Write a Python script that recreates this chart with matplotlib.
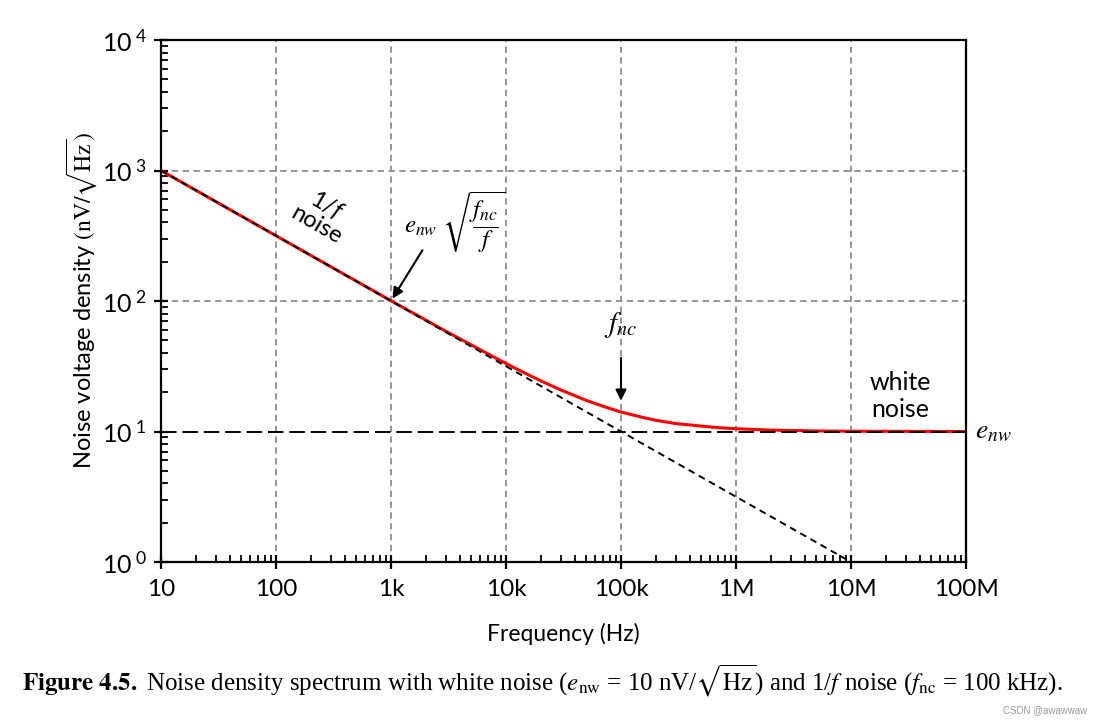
"""
Noise density spectrum: white noise plus 1/f noise (log-log).
Saves out.png at 1096x721.
"""

import matplotlib
matplotlib.use("Agg")
import matplotlib.pyplot as plt
from matplotlib.ticker import FixedLocator, LogLocator, NullFormatter


plt.rcParams["font.family"] = ["Lato", "DejaVu Sans"]
plt.rcParams["mathtext.fontset"] = "custom"
plt.rcParams["mathtext.rm"] = "Lato"
plt.rcParams["mathtext.it"] = "Lato:italic"

# total noise density
freq_hz = [10, 100, 1e3, 3e3, 1e4, 1.5e4, 2e4, 3e4, 5e4, 7e4, 1e5, 1.5e5, 2e5,
           3e5, 5e5, 7e5, 1e6, 2e6, 5e6, 1e7, 1e8]
density = [1000.0, 316.4, 100.5, 58.6, 33.2, 27.7, 24.5, 20.8, 17.3, 15.6, 14.1,
           12.9, 12.2, 11.5, 11.0, 10.7, 10.5, 10.25, 10.1, 10.05, 10.0]

# 1/f asymptote and white-noise floor
flicker_freq = [10, 1e7]
flicker_density = [1000.0, 1.0]
white_freq = [10, 1e8]
white_density = [10.0, 10.0]

x_ticks = [10, 100, 1e3, 1e4, 1e5, 1e6, 1e7, 1e8]
x_tick_labels = ["10", "100", "1k", "10k", "100k", "1M", "10M", "100M"]
y_ticks = [1, 10, 100, 1000, 10000]
y_tick_labels = [r"$10^{\ 0}$", r"$10^{\ 1}$", r"$10^{\ 2}$", r"$10^{\ 3}$", r"$10^{\ 4}$"]

CAPTION = (r"$\mathbf{Figure\ 4.5.}$ Noise density spectrum with white noise "
           r"($e_{\mathrm{nw}}$ = 10 nV/$\sqrt{\mathrm{Hz}}$) and 1/$f$ noise "
           r"($f_{\mathrm{nc}}$ = 100 kHz).")


def main():
    fig = plt.figure(figsize=(10.96, 7.21), dpi=100)
    ax = fig.add_axes([161 / 1096, 1 - 562 / 721, 805 / 1096, 522 / 721])

    ax.set_xscale("log")
    ax.set_yscale("log")
    ax.set_xlim(10, 1e8)
    ax.set_ylim(1, 1e4)

    # grid at the inner decades
    for xv in x_ticks[1:-1]:
        ax.axvline(xv, color="#8c8c8c", lw=1.3, ls=(0, (3.5, 2.5)), zorder=1)
    for yv in [100, 1000]:
        ax.axhline(yv, color="#8c8c8c", lw=1.3, ls=(0, (3.5, 2.5)), zorder=1)

    ax.plot(freq_hz, density, color="#ff0000", lw=2.2, zorder=3)
    ax.plot(flicker_freq, flicker_density, color="black", lw=1.4,
            ls=(0, (3.5, 2.5)), zorder=4)
    ax.plot(white_freq, white_density, color="black", lw=1.4,
            ls=(0, (8, 3)), zorder=4)

    for side in ["left", "right", "top", "bottom"]:
        ax.spines[side].set_linewidth(1.6)

    ax.xaxis.set_major_locator(FixedLocator(x_ticks))
    ax.set_xticklabels(x_tick_labels, fontsize=17.5)
    ax.yaxis.set_major_locator(FixedLocator(y_ticks))
    ax.set_yticklabels(y_tick_labels, fontsize=18)
    ax.xaxis.set_minor_locator(LogLocator(base=10, subs=range(2, 10), numticks=20))
    ax.yaxis.set_minor_locator(LogLocator(base=10, subs=range(2, 10), numticks=20))
    ax.xaxis.set_minor_formatter(NullFormatter())
    ax.yaxis.set_minor_formatter(NullFormatter())
    ax.tick_params(which="major", direction="inout", length=10, width=1.6, pad=5)
    ax.tick_params(axis="x", which="major", pad=7)
    ax.tick_params(which="minor", direction="in", length=5, width=1.3)

    ax.set_xlabel("Frequency (Hz)", fontsize=16.5, labelpad=17)
    ax.set_ylabel(r"Noise voltage density $(\mathrm{nV}/\sqrt{\mathrm{Hz}})$",
                  fontsize=17, labelpad=2, math_fontfamily="stix")

    # annotations
    ax.text(251, 457, "1/$f$\nnoise", fontsize=17, rotation=-30,
            ha="center", va="center", linespacing=1.0)
    ax.text(3600, 400, r"$e_{nw}\ \sqrt{\dfrac{f_{nc}}{f}}$", fontsize=18,
            ha="center", va="center", math_fontfamily="stix")
    ax.annotate("", xy=(1000, 100), xytext=(1930, 255),
                arrowprops=dict(arrowstyle="-|>", color="black", lw=1.5,
                                mutation_scale=16))
    ax.text(1e5, 65, r"$f_{nc}$", fontsize=21, ha="center", va="center",
            math_fontfamily="stix")
    ax.annotate("", xy=(1e5, 16.4), xytext=(1e5, 38.5),
                arrowprops=dict(arrowstyle="-|>", color="black", lw=1.5,
                                mutation_scale=16))
    ax.text(2.67e7, 18.7, "white\nnoise", fontsize=18, ha="center", va="center",
            linespacing=1.2)
    ax.text(1.2e8, 10, r"$e_{nw}$", fontsize=20, ha="left", va="center",
            math_fontfamily="stix", clip_on=False)

    fig.text(22 / 1096, 1 - 681 / 721, CAPTION, fontsize=18, ha="left",
             va="center", family="Liberation Serif", math_fontfamily="stix")
    fig.text(1087 / 1096, 1 - 710 / 721, "CSDN @awawwaw", fontsize=7,
             ha="right", va="center", color="#9a9a9a", family="Liberation Sans")

    fig.savefig("out.png", dpi=100)
    plt.close(fig)


if __name__ == "__main__":
    main()
